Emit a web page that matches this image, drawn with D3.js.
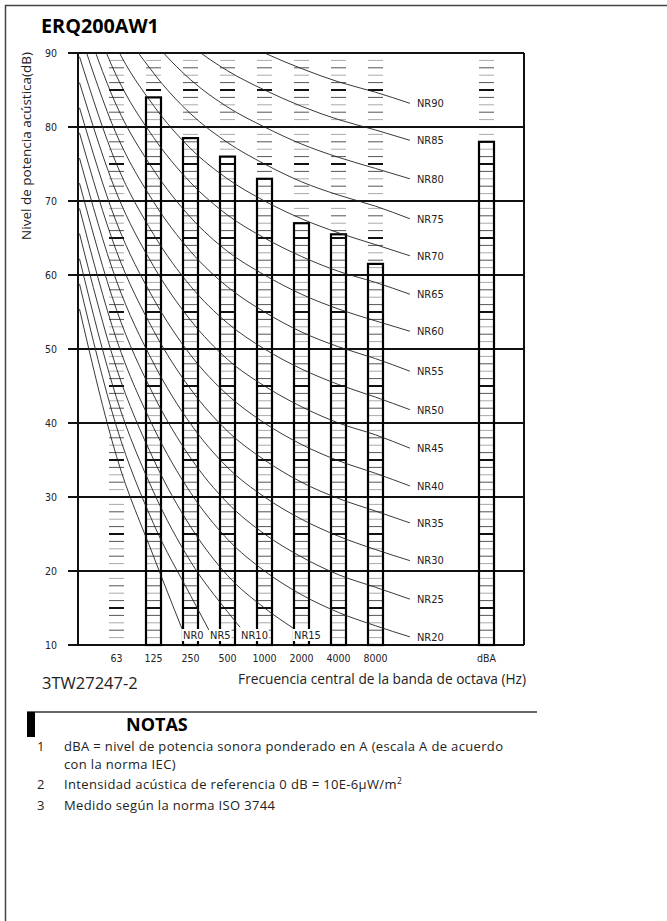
<!DOCTYPE html>
<html>
<head>
<meta charset="utf-8">
<script src="https://cdn.jsdelivr.net/npm/d3@7/dist/d3.min.js"></script>
<style>
  html, body { margin: 0; padding: 0; background: #fff; }
  svg { display: block; }
</style>
</head>
<body>
<div id="chart"></div>
<script>
// octave band columns (slot index on the x axis), dBA sits in its own slot
const bandLabels = ['63', '125', '250', '500', '1000', '2000', '4000', '8000'];
const bandLevels = [null, 84, 78.5, 76, 73, 67, 65.5, 61.5]; // 63 Hz has no bar
const dbaLabel = 'dBA';
const dbaLevel = 78;
const yTicks = [10, 20, 30, 40, 50, 60, 70, 80, 90];

// NR curves, levels at 31.5, 63, 125, 250, 500, 1k, 2k, 4k, 8k Hz
const nrValues = [0, 5, 10, 15, 20, 25, 30, 35, 40, 45, 50, 55, 60, 65, 70, 75, 80, 85, 90];
const nrLevels = [
  [55.4, 35.5, 22.0, 12.0, 4.8, 0, -3.5, -6.1, -8.0],
  [58.8, 39.5, 26.4, 16.7, 9.7, 5, 1.6, -1.0, -2.9],
  [62.2, 43.4, 30.7, 21.3, 14.5, 10, 6.7, 4.2, 2.3],
  [65.6, 47.4, 35.1, 26.0, 19.4, 15, 11.7, 9.3, 7.5],
  [69.0, 51.3, 39.4, 30.6, 24.3, 20, 16.8, 14.4, 12.6],
  [72.4, 55.3, 43.8, 35.3, 29.2, 25, 21.9, 19.5, 17.8],
  [75.8, 59.2, 48.1, 39.9, 34.0, 30, 27.0, 24.7, 22.9],
  [79.2, 63.2, 52.5, 44.6, 38.9, 35, 32.0, 29.8, 28.1],
  [82.6, 67.1, 56.8, 49.2, 43.8, 40, 37.1, 34.9, 33.2],
  [86.0, 71.1, 61.2, 53.9, 48.6, 45, 42.2, 40.0, 38.4],
  [89.5, 75.0, 65.5, 58.5, 53.5, 50, 47.3, 45.2, 43.5],
  [92.9, 79.0, 69.9, 63.2, 58.4, 55, 52.3, 50.3, 48.7],
  [96.3, 82.9, 74.2, 67.8, 63.2, 60, 57.4, 55.4, 53.8],
  [99.7, 86.9, 78.6, 72.5, 68.1, 65, 62.5, 60.5, 59.0],
  [103.1, 90.8, 82.9, 77.1, 73.0, 70, 67.6, 65.7, 64.1],
  [106.5, 94.8, 87.3, 81.8, 77.9, 75, 72.6, 70.8, 69.3],
  [109.9, 98.7, 91.6, 86.4, 82.7, 80, 77.7, 75.9, 74.4],
  [113.3, 102.7, 96.0, 91.1, 87.6, 85, 82.8, 81.0, 79.6],
  [116.7, 106.6, 100.3, 95.7, 92.5, 90, 87.9, 86.1, 84.7]
];
// where each curve stops: [slot, level] (low ones stop at the bottom, the rest at the right)
const nrEnds = [
  [1.77, 12.2], [2.5, 12.0], [3.34, 12.4], [4.77, 12.3],
  [7.93, 11.1], [7.93, 16.2], [7.93, 21.4], [7.93, 26.5], [7.93, 31.5],
  [7.93, 36.6], [7.93, 41.8], [7.93, 47.0], [7.93, 52.4], [7.93, 57.4],
  [7.93, 62.6], [7.93, 67.6], [7.93, 73.0], [7.93, 78.2], [7.93, 83.2]
];

const notes = [
  ['1', ['dBA = nivel de potencia sonora ponderado en A (escala A de acuerdo', 'con la norma IEC)']],
  ['2', ['Intensidad acústica de referencia 0 dB = 10E-6µW/m']],
  ['3', ['Medido según la norma ISO 3744']]
];

const W = 667, H = 921;
const sans = "'Open Sans', 'Noto Sans', sans-serif";
const narrow = "'Liberation Sans Narrow', 'DejaVu Sans Condensed', sans-serif";

const svg = d3.select('#chart').append('svg')
  .attr('width', W)
  .attr('height', H);

// page frame
svg.append('path')
  .attr('d', `M5.5,${H} V5.5 H${W}`)
  .attr('fill', 'none')
  .attr('stroke', '#444')
  .attr('stroke-width', 1.5);

svg.append('text')
  .attr('x', 41).attr('y', 33)
  .attr('font-family', sans).attr('font-weight', 700).attr('font-size', 19.8)
  .text('ERQ200AW1');

const x = d3.scaleLinear().domain([-1, 11]).range([79.5, 523.5]);
const y = d3.scaleLinear().domain([10, 90]).range([645, 53]);
const barW = 15;
const left = 78, right = 524;

const plot = svg.append('g');

// ladder rungs on every column
const columns = bandLabels.map((d, i) => i).concat([10]);
const rungLevels = d3.range(11, 90);
columns.forEach(c => {
  plot.append('g').selectAll('line')
    .data(rungLevels)
    .join('line')
    .attr('x1', x(c) - barW / 2).attr('x2', x(c) + barW / 2)
    .attr('y1', d => y(d)).attr('y2', d => y(d))
    .attr('stroke', d => d % 5 === 0 ? '#111' : (d % 2 ? '#aaa' : '#555'))
    .attr('stroke-width', d => d % 5 === 0 ? 2 : 1);
});

// grid and frame of the plot
plot.append('g').selectAll('line')
  .data(yTicks)
  .join('line')
  .attr('x1', 68).attr('x2', right)
  .attr('y1', d => y(d)).attr('y2', d => y(d))
  .attr('stroke', '#111')
  .attr('stroke-width', 2);
plot.append('line')
  .attr('x1', left).attr('x2', left).attr('y1', y(90)).attr('y2', y(10))
  .attr('stroke', '#111').attr('stroke-width', 2);
plot.append('line')
  .attr('x1', right).attr('x2', right).attr('y1', y(90)).attr('y2', y(10))
  .attr('stroke', '#111').attr('stroke-width', 2);

// bars
const bars = bandLevels.map((v, i) => ({ slot: i, v }))
  .filter(d => d.v !== null)
  .concat([{ slot: 10, v: dbaLevel }]);
plot.append('g').selectAll('rect')
  .data(bars)
  .join('rect')
  .attr('x', d => x(d.slot) - barW / 2)
  .attr('width', barW)
  .attr('y', d => y(d.v))
  .attr('height', d => y(10) - y(d.v))
  .attr('fill', 'none')
  .attr('stroke', '#000')
  .attr('stroke-width', 2.2);

// NR curves
svg.append('clipPath').attr('id', 'plot-clip')
  .append('rect')
  .attr('x', left).attr('y', y(90))
  .attr('width', right - left).attr('height', y(10) - y(90));

const line = d3.line()
  .x(d => x(d[0]))
  .y(d => y(d[1]))
  .curve(d3.curveMonotoneX);

const curves = nrValues.map((nr, k) => {
  const end = nrEnds[k];
  const pts = nrLevels[k].map((v, j) => [j - 1, v]).filter(p => p[0] < end[0]);
  pts.push(end);
  return { nr, pts, end };
});

plot.append('g')
  .attr('clip-path', 'url(#plot-clip)')
  .selectAll('path')
  .data(curves)
  .join('path')
  .attr('d', d => line(d.pts))
  .attr('fill', 'none')
  .attr('stroke', '#222')
  .attr('stroke-width', 0.9);

// NR labels
const labels = plot.append('g')
  .attr('font-family', narrow)
  .attr('font-size', 11)
  .attr('fill', '#222');

curves.forEach(c => {
  if (c.end[0] < 7) {
    const lx = x(c.end[0]) + 1;
    const g = labels.append('g');
    const t = g.append('text')
      .attr('x', lx).attr('y', 639)
      .text('NR' + c.nr);
    const bb = t.node().getBBox();
    g.insert('rect', 'text')
      .attr('x', bb.x - 1).attr('y', bb.y)
      .attr('width', bb.width + 2).attr('height', bb.height - 1)
      .attr('fill', '#fff');
  } else {
    labels.append('text')
      .attr('x', x(c.end[0]) + 7)
      .attr('y', y(c.end[1]))
      .attr('dy', '0.35em')
      .text('NR' + c.nr);
  }
});

// axis labels
const ticks = svg.append('g')
  .attr('font-family', narrow)
  .attr('font-size', 10.5)
  .attr('fill', '#222');
ticks.selectAll('.yt')
  .data(yTicks)
  .join('text')
  .attr('class', 'yt')
  .attr('x', 57)
  .attr('y', d => y(d))
  .attr('dy', '0.35em')
  .attr('text-anchor', 'end')
  .text(d => d);
ticks.selectAll('.xt')
  .data(bandLabels.map((d, i) => [i, d]).concat([[10, dbaLabel]]))
  .join('text')
  .attr('class', 'xt')
  .attr('x', d => x(d[0]))
  .attr('y', 662)
  .attr('text-anchor', 'middle')
  .text(d => d[1]);

svg.append('text')
  .attr('transform', 'translate(31,52) rotate(-90)')
  .attr('text-anchor', 'end')
  .attr('font-family', sans).attr('font-size', 13.5).attr('fill', '#222')
  .text('Nivel de potencia acústica(dB)');

svg.append('text')
  .attr('x', 526).attr('y', 684)
  .attr('text-anchor', 'end')
  .attr('font-family', sans).attr('font-size', 13.7).attr('fill', '#222')
  .text('Frecuencia central de la banda de octava (Hz)');

svg.append('text')
  .attr('x', 42).attr('y', 689)
  .attr('font-family', sans).attr('font-size', 16.5).attr('fill', '#222')
  .text('3TW27247-2');

// notes block
svg.append('line')
  .attr('x1', 27).attr('x2', 537).attr('y1', 712).attr('y2', 712)
  .attr('stroke', '#333').attr('stroke-width', 1.5);
svg.append('rect')
  .attr('x', 27).attr('y', 712).attr('width', 8).attr('height', 25)
  .attr('fill', '#000');
svg.append('text')
  .attr('x', 126).attr('y', 731)
  .attr('font-family', sans).attr('font-weight', 700).attr('font-size', 18)
  .text('NOTAS');

const noteG = svg.append('g')
  .attr('font-family', sans).attr('font-size', 13)
  .attr('letter-spacing', 0.35).attr('fill', '#222');
let ny = 751;
notes.forEach(([num, lines]) => {
  noteG.append('text').attr('x', 37).attr('y', ny).text(num);
  lines.forEach((s, i) => {
    const t = noteG.append('text').attr('x', 64).attr('y', ny + i * 17.8).text(s);
    if (num === '2') t.append('tspan').attr('font-size', 8.5).attr('dy', -5).text('2');
  });
  ny += 20.5 + (lines.length - 1) * 17.8;
});
</script>
</body>
</html>
